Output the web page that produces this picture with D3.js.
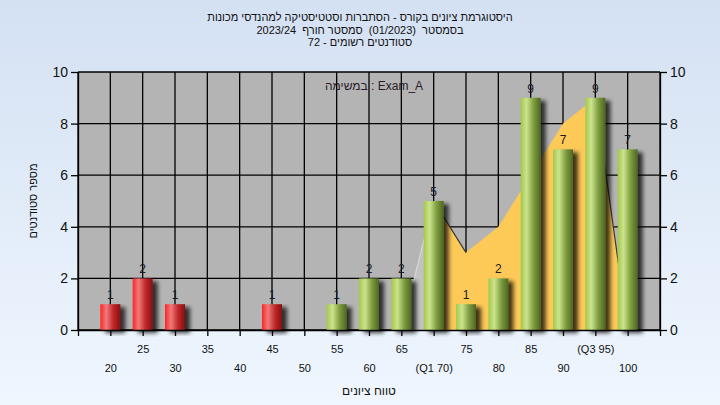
<!DOCTYPE html>
<html><head><meta charset="utf-8">
<script src="https://cdn.jsdelivr.net/npm/d3@7"></script>
<style>
html,body{margin:0;padding:0;}
svg{display:block;font-family:"Liberation Sans",Arial,sans-serif;}
.pre{white-space:pre;}
</style></head>
<body>
<svg id="chart" width="720" height="405"></svg>
<script>
// ---- data ----
const categories = [20,25,30,35,40,45,50,55,60,65,70,75,80,85,90,95,100];
const counts     = [1, 2, 1, 0, 0, 1, 0, 1, 2, 2, 5, 1, 2, 9, 7, 9, 7];
const passMark = 55;
const areaCats   = [70,75,80,85,90,95,100];
const areaVals   = [5, 3, 4, 6, 8, 9, 0];
const leadCats   = [65,70];
const leadVals   = [0, 5];
const xTickValues = [15,20,25,30,35,40,45,50,55,60,65,70,75,80,85,90,95,100,105];
const xTickLabels = {20:"20",25:"25",30:"30",35:"35",40:"40",45:"45",50:"50",55:"55",60:"60",65:"65",70:"(Q1 70)",75:"75",80:"80",85:"85",90:"90",95:"(Q3 95)",100:"100"};
const yTicks = [0,2,4,6,8,10];
const titleLines = ["היסטוגרמת ציונים בקורס - הסתברות וסטטיסטיקה למהנדסי מכונות",
                    "בסמסטר  (01/2023)  סמסטר חורף  2023/24",
                    "סטודנטים רשומים - 72"];
const legendText = "במשימה : Exam_A";
const xTitle = "טווח ציונים";
const yTitle = "מספר סטודנטים";

// ---- layout ----
const svg = d3.select("#chart");
const L = 78, R = 660, T = 72, B = 330;
const x = d3.scaleLinear().domain([15,105]).range([L,R]);
const y = d3.scaleLinear().domain([0,10]).range([B,T]);
const barW = 20;

const defs = svg.append("defs");
const bg = defs.append("linearGradient").attr("id","bg").attr("x1",0).attr("y1",0).attr("x2",0).attr("y2",1);
bg.append("stop").attr("offset","0%").attr("stop-color","#d4e1f3");
bg.append("stop").attr("offset","100%").attr("stop-color","#eff6fe");

function barGrad(id, c0, c1, c2, c3){
  const g = defs.append("linearGradient").attr("id",id).attr("x1",0).attr("y1",0).attr("x2",1).attr("y2",0);
  g.append("stop").attr("offset","0%").attr("stop-color",c0);
  g.append("stop").attr("offset","30%").attr("stop-color",c1);
  g.append("stop").attr("offset","65%").attr("stop-color",c2);
  g.append("stop").attr("offset","100%").attr("stop-color",c3);
}
barGrad("gGreen","#a3c84c","#cbe48c","#7e9c3e","#4d6623");
barGrad("gRed","#ff2424","#f07a7a","#c02828","#861010");

const sh = defs.append("filter").attr("id","shadow").attr("x","-20%").attr("y","-10%").attr("width","170%").attr("height","130%");
sh.append("feGaussianBlur").attr("in","SourceAlpha").attr("stdDeviation",2.2).attr("result","b");
sh.append("feOffset").attr("in","b").attr("dx",5).attr("dy",3).attr("result","o");
sh.append("feComponentTransfer").attr("in","o").attr("result","s")
  .append("feFuncA").attr("type","linear").attr("slope",0.75);
const m = sh.append("feMerge");
m.append("feMergeNode").attr("in","s");
m.append("feMergeNode").attr("in","SourceGraphic");

svg.append("rect").attr("width",720).attr("height",405).attr("fill","url(#bg)");

// plot background
svg.append("rect").attr("x",L).attr("y",T).attr("width",R-L).attr("height",B-T).attr("fill","#b4b4b4");

// grid
const grid = svg.append("g").attr("stroke","#000").attr("stroke-width",1.3);
xTickValues.forEach(v=>{
  grid.append("line").attr("x1",x(v)).attr("x2",x(v)).attr("y1",T).attr("y2",B);
});
yTicks.forEach(v=>{
  grid.append("line").attr("x1",L).attr("x2",R).attr("y1",y(v)).attr("y2",y(v));
});

// lead segment
const leadPts = leadCats.map((c,i)=>[c,leadVals[i]]);
svg.append("path").datum(leadPts)
  .attr("d", d3.area().x(d=>x(d[0])).y0(y(0)).y1(d=>y(d[1])))
  .attr("fill","#c2c2c2");
svg.append("path").datum(leadPts)
  .attr("d", d3.line().x(d=>x(d[0])).y(d=>y(d[1])))
  .attr("fill","none").attr("stroke","#d6d6d6").attr("stroke-width",1.2);

// area
const areaPts = areaCats.map((c,i)=>[c,areaVals[i]]);
svg.append("path").datum(areaPts)
  .attr("d", d3.area().x(d=>x(d[0])).y0(y(0)).y1(d=>y(d[1])))
  .attr("fill","#fdc957");
for(let i=0;i<areaPts.length-1;i++){
  if(areaPts[i+1][1] < areaPts[i][1]){
    svg.append("path").datum([areaPts[i],areaPts[i+1]])
      .attr("d", d3.line().x(d=>x(d[0])).y(d=>y(d[1])))
      .attr("fill","none").attr("stroke","#3a3a3a").attr("stroke-width",1.2);
  }
}

// bars
const data = categories.map((c,i)=>({c, v:counts[i]}));
svg.append("g").selectAll("rect").data(data.filter(d=>d.v>0)).join("rect")
  .attr("x",d=>x(d.c)-barW/2).attr("width",barW)
  .attr("y",d=>y(d.v)).attr("height",d=>y(0)-y(d.v))
  .attr("fill",d=>d.c<passMark?"url(#gRed)":"url(#gGreen)")
  .attr("filter","url(#shadow)");

// value labels
svg.append("g").selectAll("text").data(data.filter(d=>d.v>0)).join("text")
  .attr("x",d=>x(d.c)).attr("y",d=>y(d.v)-5)
  .attr("text-anchor","middle").attr("font-size",12).attr("fill","#1a1a2a")
  .text(d=>d.v);

// axes
const axisStyle = g=>{
  g.select(".domain").attr("stroke","#000").attr("stroke-width",1.3);
  g.selectAll(".tick line").attr("stroke","#000").attr("stroke-width",1.3);
  g.selectAll(".tick text").attr("fill","#111").attr("font-family","Liberation Sans, Arial, sans-serif");
};
svg.append("g").attr("transform",`translate(${L},0)`)
  .call(d3.axisLeft(y).tickValues(yTicks).tickSize(7).tickPadding(3).tickSizeOuter(0))
  .call(axisStyle).call(g=>g.selectAll(".tick text").attr("font-size",14));
svg.append("g").attr("transform",`translate(${R},0)`)
  .call(d3.axisRight(y).tickValues(yTicks).tickSize(7).tickPadding(3).tickSizeOuter(0))
  .call(axisStyle).call(g=>g.selectAll(".tick text").attr("font-size",14));
const xa = svg.append("g").attr("transform",`translate(0,${B})`)
  .call(d3.axisBottom(x).tickValues(xTickValues).tickSize(6).tickSizeOuter(0)
    .tickFormat(v=>xTickLabels[v]||""))
  .call(axisStyle);
xa.selectAll(".tick text").attr("font-size",11)
  .attr("y",(v)=>{ const i = categories.indexOf(v); return i%2===1 ? 23 : 42; })
  .attr("dy","0");

// titles
svg.append("g").selectAll("text").data(titleLines).join("text")
  .attr("class","pre")
  .attr("x",360).attr("y",(d,i)=>21+i*12.5)
  .attr("text-anchor","middle").attr("direction","rtl").attr("font-size",11).attr("fill","#111")
  .text(d=>d);

svg.append("text").attr("x",374).attr("y",90).attr("text-anchor","middle")
  .attr("font-size",12).attr("fill","#2a1a2a").text(legendText);

svg.append("text").attr("x",369).attr("y",395).attr("text-anchor","middle")
  .attr("direction","rtl").attr("font-size",12).attr("fill","#111").text(xTitle);

svg.append("text").attr("transform","translate(37,201) rotate(-90)")
  .attr("text-anchor","middle").attr("direction","rtl").attr("font-size",11).attr("fill","#111").text(yTitle);
</script>
</body></html>
